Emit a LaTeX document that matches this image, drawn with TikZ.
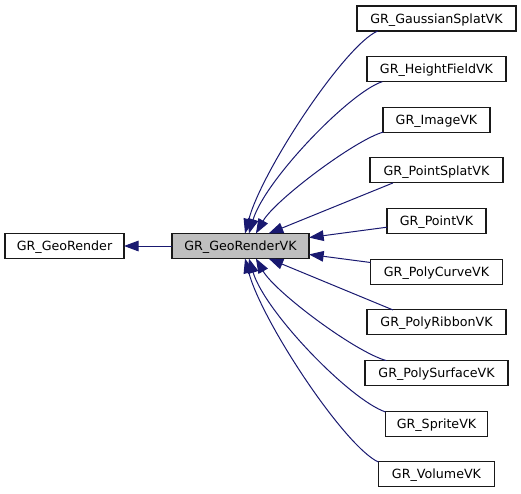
\documentclass[tikz,border=0pt]{standalone}
\usepackage{fontspec}
\setmainfont{DejaVu Sans}
\usetikzlibrary{positioning,arrows.meta}
\definecolor{edgeblue}{HTML}{191970}

\begin{document}
\begin{tikzpicture}[
    x=0.75pt, y=-0.75pt,
    node distance=19.24pt and 36pt,
    font=\fontsize{9.5}{11}\selectfont,
    cls/.style={rectangle, draw=black!90, line width=0.8pt, minimum height=18.75pt, inner sep=0pt, outer sep=0pt, text height=1.5ex, text depth=.25ex},
    current/.style={cls, fill=black!25},
    inherit/.style={-{Triangle[length=11pt,width=8pt]}, draw=edgeblue, line width=0.75pt}
]
\useasboundingbox (0,0) rectangle (521,493);

% Nodes
\node[cls, minimum width=89.25pt] (base) at (64.5,246) {GR\_GeoRender};
\node[current, minimum width=102.75pt, right=of base] (vk) {GR\_GeoRenderVK};

\node[cls, minimum width=119.25pt] (gauss) at (436.5,18.5) {GR\_GaussianSplatVK};
\node[cls, minimum width=104.25pt, below=of gauss] (height) {GR\_HeightFieldVK};
\node[cls, minimum width=80.25pt, below=of height] (image) {GR\_ImageVK};
\node[cls, minimum width=99.75pt, below=of image] (pointsplat) {GR\_PointSplatVK};
\node[cls, minimum width=74.25pt, below=of pointsplat] (pointvk) {GR\_PointVK};
\node[cls, minimum width=99pt, below=of pointvk] (polycurve) {GR\_PolyCurveVK};
\node[cls, minimum width=104.25pt, below=of polycurve] (polyribbon) {GR\_PolyRibbonVK};
\node[cls, minimum width=107.25pt, below=of polyribbon] (polysurface) {GR\_PolySurfaceVK};
\node[cls, minimum width=76.5pt, below=of polysurface] (sprite) {GR\_SpriteVK};
\node[cls, minimum width=87pt, below=of sprite] (volume) {GR\_VolumeVK};

% Arrows
\draw[inherit] (vk) -- (base);
\draw[inherit] (gauss.192) .. controls (345,45) and (262,170) .. (vk.70);
\draw[inherit] (height.193) .. controls (350,92) and (265,180) .. (vk.56);
\draw[inherit] (image.193.5) .. controls (355,140) and (275,200) .. (vk.39);
\draw[inherit] (pointsplat.196) -- (vk.24.4);
\draw[inherit] (pointvk.187.3) -- (vk.7.7);
\draw[inherit] (polycurve.172.7) -- (vk.-7.5);
\draw[inherit] (polyribbon.164) -- (vk.-24.4);
\draw[inherit] (polysurface.166.5) .. controls (355,352) and (275,292) .. (vk.-39);
\draw[inherit] (sprite.167) .. controls (350,400) and (265,312) .. (vk.-56);
\draw[inherit] (volume.168) .. controls (345,447) and (262,322) .. (vk.-70);

\end{tikzpicture}
\end{document}
